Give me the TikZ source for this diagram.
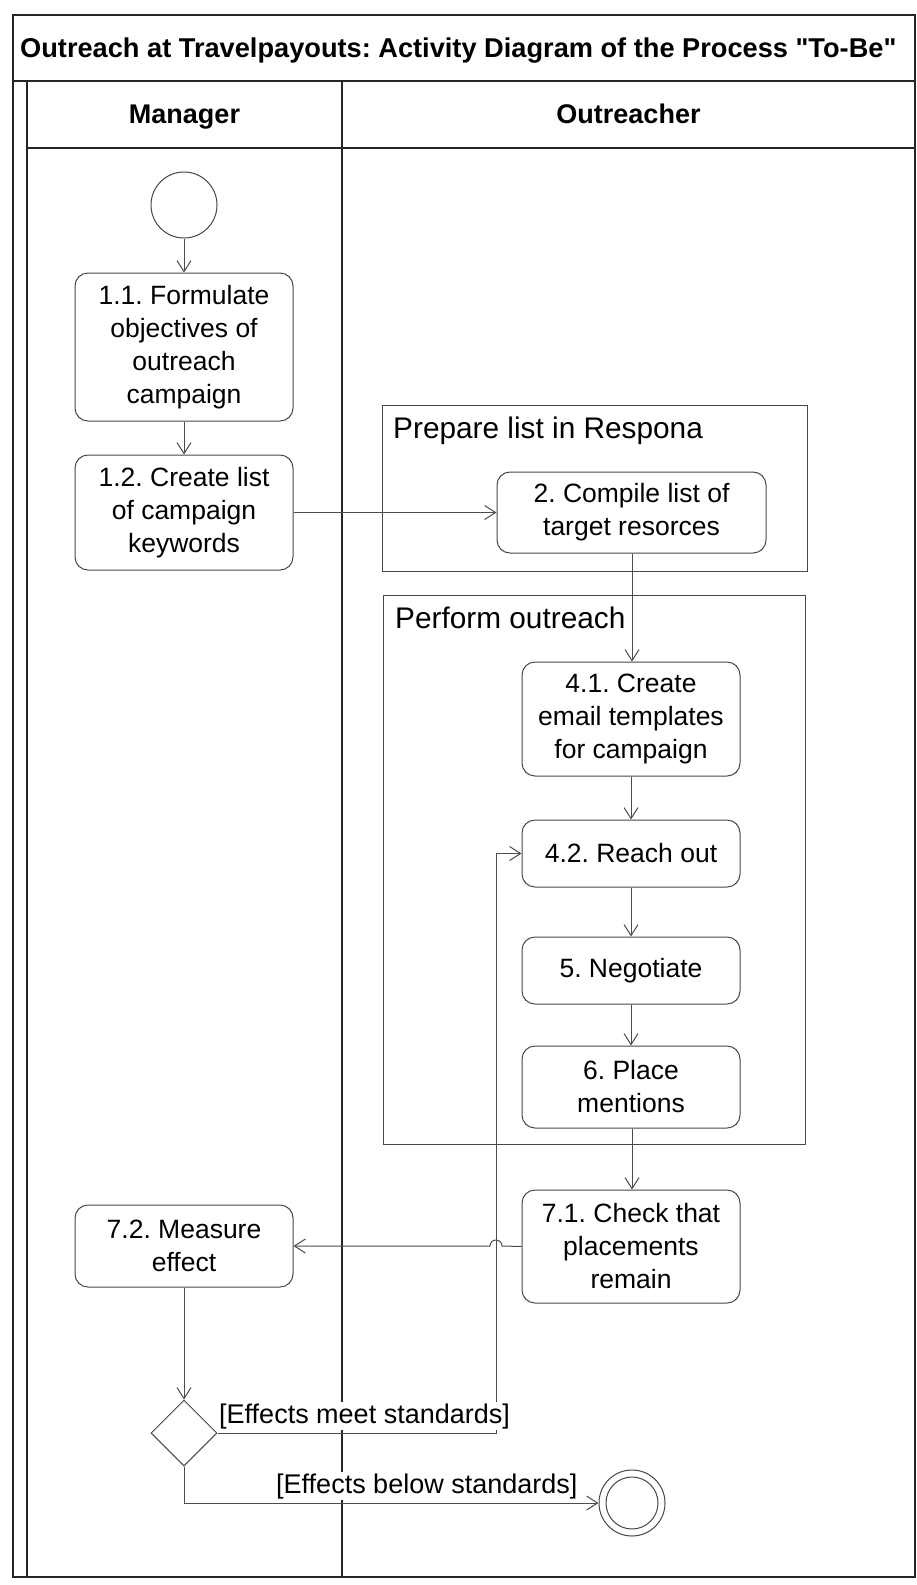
\documentclass[tikz,border=0pt]{standalone}
\usepackage{fontspec}
\setmainfont{Liberation Sans}[Ligatures=TeXOff]
\usetikzlibrary{arrows.meta,shapes.geometric}
\newcommand\myfs{\fontsize{26.5}{33}\selectfont}
\newcommand\mygfs{\fontsize{29.8}{36}\selectfont}
\newcommand\mylfs{\fontsize{27}{33}\selectfont}
\frenchspacing
\begin{document}
\begin{tikzpicture}[x=1pt,y=-1pt,
  act/.style={draw=black!72, line width=1pt, rounded corners=13pt, align=center, inner sep=0pt, font=\myfs, fill=white},
  grp/.style={draw=black!72, line width=1pt},
  frm/.style={draw=black!85, line width=1.4pt},
  flow/.style={draw=black!70, line width=1pt, -{Straight Barb[length=11pt,width=14pt]}},
  lbl/.style={inner sep=0pt, font=\mygfs},
  glbl/.style={inner sep=1pt, font=\mylfs, fill=white},
  hdr/.style={inner sep=0pt, font=\mylfs\bfseries}]
\useasboundingbox (0,0) rectangle (916,1585);
\fill[white] (0,0) rectangle (916,1585);
% frame
\draw[frm] (13,15) rectangle (915,1577);
\draw[frm] (13,81) -- (915,81);
\draw[frm] (27,81) -- (27,1577);
\draw[frm] (27,148) -- (915,148);
\draw[frm] (342,81) -- (342,1577);
\node[hdr, font=\fontsize{27.2}{33}\selectfont\bfseries, anchor=base west] (title) at (20,57) {Outreach at Travelpayouts: Activity Diagram of the Process "To-Be"};
\node[hdr, anchor=base] (lmgr) at (184.5,123) {Manager};
\node[hdr, anchor=base] (lout) at (628.5,123) {Outreacher};
% groups
\draw[grp] (382,405) rectangle (807,571);
\node[lbl, anchor=base west] (g1) at (393,438) {Prepare list in Respona};
\draw[grp] (383,595) rectangle (805,1144);
\node[lbl, anchor=base west] (g2) at (395,628) {Perform outreach};
% nodes
\node[circle, draw=black!72, line width=1pt, minimum size=66pt, inner sep=0pt] (init) at (184,205) {};
\node[act, minimum width=218pt, minimum height=148pt] (n11) at (184,347) {1.1. Formulate\\objectives of\\outreach\\campaign};
\node[act, minimum width=218pt, minimum height=115pt] (n12) at (184,512.5) {1.2. Create list\\of campaign\\keywords};
\node[act, minimum width=269pt, minimum height=81pt] (n2) at (631.5,512.5) {2. Compile list of\\target resorces};
\node[act, minimum width=218pt, minimum height=114pt] (n41) at (631,719) {4.1. Create\\email templates\\for campaign};
\node[act, minimum width=218pt, minimum height=67pt] (n42) at (631,853.5) {4.2. Reach out};
\node[act, minimum width=218pt, minimum height=67pt] (n5) at (631,970.5) {5. Negotiate};
\node[act, minimum width=218pt, minimum height=82pt] (n6) at (631,1087) {6. Place\\mentions};
\node[act, minimum width=218pt, minimum height=113pt] (n71) at (631,1246.5) {7.1. Check that\\placements\\remain};
\node[act, minimum width=218pt, minimum height=82pt] (n72) at (184,1246) {7.2. Measure\\effect};
\node[diamond, draw=black!72, line width=1pt, minimum width=66pt, minimum height=66pt, inner sep=0pt, aspect=1] (dec) at (184,1433) {};
\node[circle, draw=black!72, line width=1pt, minimum size=66pt, inner sep=0pt] (fin) at (632,1503) {};
\node[circle, draw=black!72, line width=1pt, minimum size=52pt, inner sep=0pt] (finin) at (632,1503) {};
% coordinates
\coordinate (loopA) at (496,1433);
\coordinate (loopB) at (496,853.5);
\coordinate (hopR) at (502,1246);
\coordinate (decB) at (184,1503);
% connectors
\draw[flow] (init) -- (n11);
\draw[flow] (n11) -- (n12);
\draw[flow] (n12) -- (n2);
\draw[flow] (n2.south -| 632,0) -- (n41.north -| 632,0);
\draw[flow] (n41) -- (n42);
\draw[flow] (n42) -- (n5);
\draw[flow] (n5) -- (n6);
\draw[flow] (n6.south -| 632,0) -- (n71.north -| 632,0);
\draw[flow] (n71.west) -- (hopR) arc[start angle=0, end angle=180, radius=6pt] -- (n72.east);
\draw[flow] (n72) -- (dec);
\draw[flow] (dec.east) -- (loopA) -- (loopB) -- (n42.west);
\draw[flow] (dec.south) -- (decB) -- (fin.west);
\node[glbl, anchor=base west] (lmeet) at (218,1423) {[Effects meet standards]};
\node[glbl, anchor=base west] (lbelow) at (275,1493) {[Effects below standards]};
\end{tikzpicture}
\end{document}
